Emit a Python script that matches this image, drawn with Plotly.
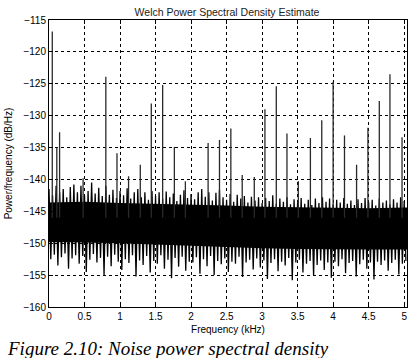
import plotly.graph_objects as go

# ---- data ----
# upper noise excursions, f = 0.00 .. 5.00 step 0.05 kHz
up_vals = [-141.5,-142.5,-141.0,-142.0,-141.5,-142.8,-141.2,-140.8,-142.0,-141.0,
           -142.5,-141.8,-140.5,-142.2,-141.3,-142.6,-141.0,-142.4,-141.6,-142.9,
           -141.8,-142.5,-141.4,-143.0,-142.0,-141.5,-142.8,-142.0,-143.2,-141.8,
           -142.6,-142.0,-143.0,-141.9,-142.8,-142.2,-143.4,-142.4,-141.7,-142.9,
           -142.3,-143.1,-142.0,-141.5,-142.7,-142.0,-143.3,-142.1,-141.6,-142.8,
           -143.2,-142.3,-143.5,-142.4,-143.0,-142.6,-143.6,-142.7,-143.3,-142.8,
           -143.7,-142.9,-143.4,-142.5,-143.8,-143.0,-143.5,-142.8,-143.9,-143.1,
           -143.6,-142.9,-143.8,-143.2,-144.0,-143.0,-143.7,-142.8,-143.5,-143.0,
           -143.9,-143.2,-143.6,-142.9,-143.8,-143.3,-144.0,-143.1,-143.7,-142.9,
           -143.5,-143.2,-144.1,-143.0,-143.6,-143.3,-143.9,-143.1,-143.6,-142.8,
           -143.4]
# lower noise excursions, f = 0.025 .. 5.025 step 0.05 kHz
lo_vals = [-152.5,-151.8,-153.5,-152.2,-151.6,-154.0,-152.4,-151.9,-153.2,-152.0,
           -154.5,-152.6,-151.7,-153.0,-152.3,-155.0,-152.1,-153.6,-151.8,-152.9,
           -154.2,-152.5,-153.1,-151.9,-155.2,-152.7,-153.4,-152.0,-154.6,-152.8,
           -153.2,-151.9,-154.0,-152.6,-155.5,-152.3,-153.7,-152.1,-154.3,-152.9,
           -153.0,-152.2,-154.8,-152.5,-153.6,-152.0,-155.0,-152.8,-153.3,-152.4,
           -154.5,-152.9,-153.2,-152.1,-155.3,-153.0,-152.6,-154.1,-152.4,-153.8,
           -152.7,-155.6,-153.1,-152.5,-154.4,-152.9,-153.5,-152.3,-155.8,-153.0,
           -152.6,-154.6,-153.2,-152.8,-155.0,-153.4,-152.7,-154.2,-153.0,-155.4,
           -152.9,-153.6,-152.5,-154.7,-153.1,-152.8,-155.2,-153.3,-152.6,-154.0,
           -153.0,-155.7,-152.9,-153.4,-152.7,-154.3,-153.1,-152.6,-154.9,-153.2,
           -152.8]
# dense noise core
core_f = [0.0, 0.5, 1.0, 1.5, 2.0, 2.5, 3.0, 3.5, 4.0, 4.5, 5.04]
core_top = [-143.6, -143.5, -143.7, -143.8, -143.9, -144.1, -144.3, -144.4, -144.5, -144.5, -144.4]
core_bot = [-149.8, -149.9, -150.0, -150.2, -150.3, -150.6, -150.8, -150.9, -151.0, -151.0, -151.0]
# harmonic spikes
spike_f = [0.046, 0.11, 0.149, 0.48, 0.80, 0.957, 1.12, 1.285, 1.44, 1.60, 1.765, 1.92,
           2.24, 2.40, 2.56, 2.72, 2.89, 3.04, 3.20, 3.35, 3.51, 3.68, 3.84, 4.00,
           4.16, 4.33, 4.49, 4.65, 4.80, 4.97]
spike_db = [-116.8, -135.0, -132.6, -139.8, -123.9, -135.9, -139.5, -137.7, -128.1, -125.2, -134.9, -140.3,
            -134.3, -133.8, -132.0, -139.3, -139.6, -129.0, -125.4, -132.8, -140.3, -133.5, -130.7, -124.7,
            -133.1, -137.7, -131.9, -127.7, -123.5, -133.4]
spike_base = -146.0

x_ticks = [0, 0.5, 1, 1.5, 2, 2.5, 3, 3.5, 4, 4.5, 5]
x_labels = ["0", "0.5", "1", "1.5", "2", "2.5", "3", "3.5", "4", "4.5", "5"]
y_ticks = [-160, -155, -150, -145, -140, -135, -130, -125, -120, -115]

# ---- build traces ----
step = 0.05
zx, zy = [], []
for i in range(len(up_vals)):
    zx.append(i * step); zy.append(up_vals[i])
    zx.append(i * step + step / 2); zy.append(lo_vals[i])

sx, sy = [], []
for f, v in zip(spike_f, spike_db):
    sx += [f, f, None]; sy += [spike_base, v, None]

fig = go.Figure()
fig.add_trace(go.Scatter(x=core_f + core_f[::-1], y=core_top + core_bot[::-1],
                         fill="toself", fillcolor="black", line=dict(width=0),
                         mode="lines", hoverinfo="skip"))
fig.add_trace(go.Scatter(x=zx, y=zy, mode="lines", line=dict(color="black", width=1.3)))
fig.add_trace(go.Scatter(x=sx, y=sy, mode="lines", line=dict(color="#2a2a2a", width=1.3)))

axis_font = dict(family="Liberation Sans, Arial, sans-serif", size=10, color="black")
fig.update_layout(
    width=416, height=358,
    margin=dict(l=46, r=8, t=20, b=51),
    paper_bgcolor="white", plot_bgcolor="white",
    showlegend=False,
    title=dict(text="Welch Power Spectral Density Estimate",
               x=227 / 416, xanchor="center", y=1 - 12 / 358, yanchor="middle",
               font=dict(family="Liberation Sans, Arial, sans-serif", size=10.5, color="#222")),
    xaxis=dict(range=[0, 5.04], tickvals=x_ticks, ticktext=x_labels,
               showgrid=True, gridcolor="black", griddash="dot", gridwidth=1,
               zeroline=False, showline=True, linecolor="black", linewidth=1, mirror="ticks",
               ticks="inside", ticklen=4, tickcolor="black", tickfont=axis_font,
               title=dict(text="Frequency (kHz)", font=axis_font, standoff=4)),
    yaxis=dict(range=[-160, -115], tickvals=y_ticks,
               showgrid=True, gridcolor="black", griddash="dot", gridwidth=1,
               zeroline=False, showline=True, linecolor="black", linewidth=1, mirror="ticks",
               ticks="inside", ticklen=4, tickcolor="black", tickfont=axis_font,
               title=dict(text="Power/frequency (dB/Hz)", font=axis_font, standoff=8)),
    annotations=[dict(text="<i>Figure 2.10: Noise power spectral density</i>",
                      xref="paper", yref="paper", x=-44 / 362, y=-(348 - 307) / 287,
                      xanchor="left", yanchor="middle", showarrow=False,
                      font=dict(family="Liberation Serif, Times New Roman, serif", size=19, color="black"))],
)
fig.write_html("out.html")
